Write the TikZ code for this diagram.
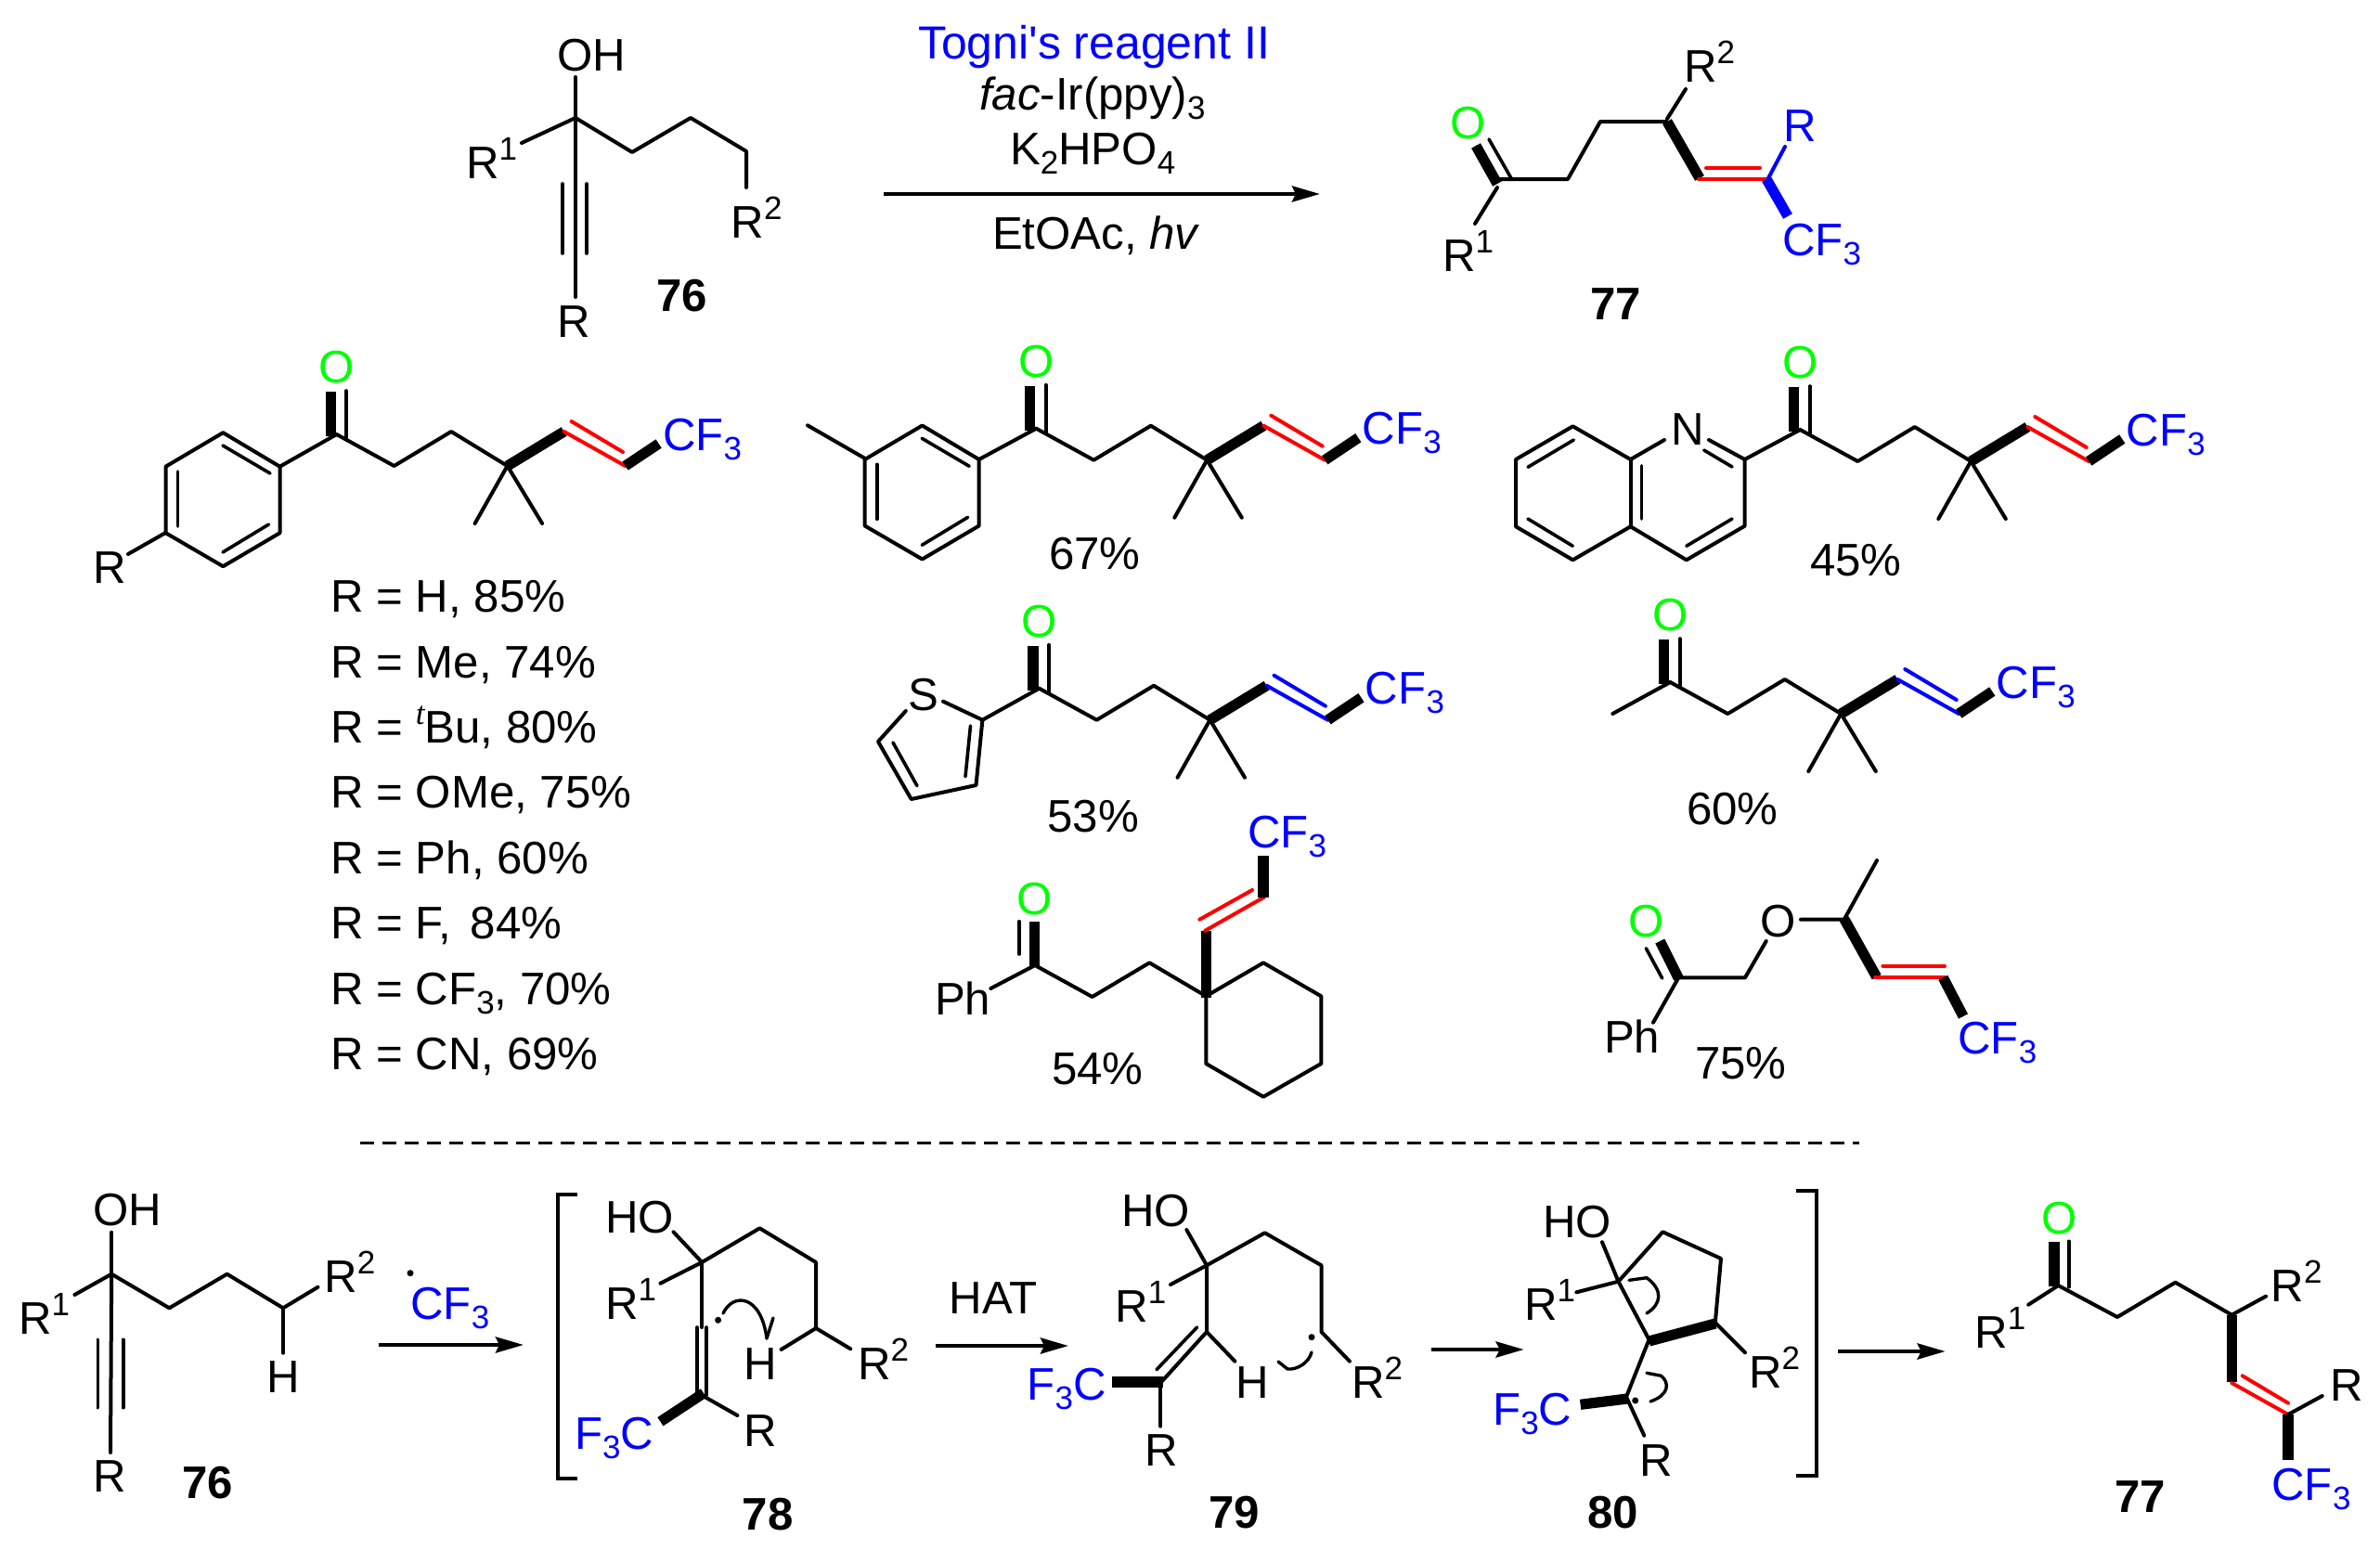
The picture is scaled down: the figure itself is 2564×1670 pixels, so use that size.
\documentclass[tikz,border=0pt]{standalone}
\usepackage{fontspec}
\setmainfont{Liberation Sans}
\newfontfamily\plainsans{Liberation Sans}
\newfontfamily\tmsfam{Liberation Serif}
\usetikzlibrary{arrows.meta}
\definecolor{cfblue}{RGB}{0,0,255}
\definecolor{ogreen}{RGB}{0,255,0}
\definecolor{dblred}{RGB}{255,0,0}
\tikzset{
  atom/.style={inner sep=0pt,outer sep=0pt,anchor=base west,xshift=-1.5pt,font=\fontsize{24.6}{29.5}\selectfont},
  bluetxt/.style={atom,text=cfblue},
  oxy/.style={inner sep=0pt,anchor=center,text=ogreen,font=\fontsize{24.6}{29.5}\selectfont},
  bd/.style={line width=2pt,line join=round,line cap=round},
  thin2/.style={line width=1.8pt,line cap=round},
  hv/.style={line width=5.6pt,line cap=butt},
  arr/.style={line width=2.2pt,-{Stealth[length=15pt,width=8.5pt,inset=2pt]}},
  brk/.style={line width=2pt,line join=miter},
  curl/.style={line width=1.7pt,line cap=round,line join=miter},
  dashrule/.style={line width=1.5pt,dash pattern=on 7.5pt off 4.5pt},
}
\newcommand\sups[1]{\raisebox{10pt}{\fontsize{17.5}{17.5}\selectfont #1}}
\newcommand\subs[1]{\raisebox{-5pt}{\fontsize{17.5}{17.5}\selectfont #1}}
\newcommand\T[4][atom]{\node[#1] (#2) at (#3) {#4};}
\newcommand\raddot[1]{\fill (#1) circle (3.5);}
% carbonyl + gem-dimethyl chain, origin at the carbonyl carbon
\newcommand\ketchain[4]{%
 \begin{scope}[shift={(#1,#2)}]
  \draw[bd] (0,0)--(62,34)--(123.5,-3)--(184,34);
  \draw[bd] (184,34)--(149,96);
  \draw[bd] (184,34)--(221.5,96);
  \draw[hv] (-6.5,2)--(-6.5,-46);
  \draw[thin2] (10.4,4)--(10.4,-47);
  \draw[hv] (184,34)--(245,-3);
  \draw[bd,color=#3] (245,-3)--(311,34);
  \draw[bd,color=#3] (253,-14)--(308.4,19);
  \draw[hv] (311,34)--(347,10);
  \node[oxy] (#4O) at (0,-72) {O};
  \node[bluetxt] (#4CF) at (354.4,17) {CF\subs{3}};
 \end{scope}}
% benzene ring, origin at the ipso carbon (upper right)
\newcommand\benz[2]{%
 \begin{scope}[shift={(#1,#2)}]
  \draw[bd] (0,0)--(-61.2,-36.5)--(-123,0)--(-123,71.5)--(-61.2,107.5)--(0,71.5)--cycle;
  \draw[thin2] (-61.5,-22.7)--(-10.5,7.3);
  \draw[thin2] (-61.5,92.3)--(-12,62.3);
  \draw[thin2] (-110,5.3)--(-110,64.3);
 \end{scope}}
\begin{document}
\begin{tikzpicture}[x=0.5pt,y=-0.5pt]
\useasboundingbox (0,0) rectangle (2564,1670);
\fill[white] (0,0) rectangle (2564,1670);

% ---------- top reaction: 76
\draw[bd] (620,83)--(620,127);
\draw[bd] (562,154)--(620,127)--(681,164)--(744,127)--(804,163)--(804,202);
\draw[bd] (620,127)--(620,320);
\draw[thin2] (606,198)--(606,273);
\draw[thin2] (632,198)--(632,273);
\T{topOH}{603,76}{OH}
\T{topRa}{505,192}{R\sups{1}}
\T{topRb}{790.5,256}{R\sups{2}}
\T{topR}{603,363}{R}
\T[atom,font=\fontsize{24.6}{29.5}\selectfont\bfseries]{topNa}{710,335}{76}
% conditions
\coordinate (topArrS) at (952,209);
\coordinate (topArrE) at (1422,209);
\draw[arr] (topArrS)--(topArrE);
\T[bluetxt,font=\fontsize{25}{29.5}\selectfont]{togni}{992,63}{\plainsans Togni's reagent II}
\T{fac}{1058,118}{\itshape fac\upshape-Ir(ppy)\subs{3}}
\T{base}{1091,177}{K\subs{2}HPO\subs{4}}
\T{solv}{1072,268}{EtOAc, \itshape hv}

% ---------- top product 77
\draw[hv] (1613,198)--(1590,157);
\draw[thin2] (1628,192)--(1604,150);
\draw[bd] (1613,202)--(1589,241);
\draw[bd] (1615,193)--(1689,193)--(1724,131)--(1795,131);
\draw[bd] (1796,128)--(1816,96);
\draw[hv] (1796,131)--(1831,192);
\draw[bd,color=dblred] (1830,193)--(1902,193);
\draw[bd,color=dblred] (1838,181)--(1896,181);
\draw[bd,color=cfblue] (1905,192)--(1923,158);
\draw[hv,color=cfblue] (1903,193)--(1926,233);
\node[oxy] (topO) at (1582,133) {O};
\T{pRb}{1817,88}{R\sups{2}}
\T[bluetxt]{pR}{1924,152}{R}
\T[bluetxt]{pCF}{1923,275}{CF\subs{3}}
\T{pRa}{1557,292}{R\sups{1}}
\T[atom,font=\fontsize{24.6}{29.5}\selectfont\bfseries]{pNa}{1716,344}{77}

% ---------- substrate a
\benz{301.5}{502.7}
\draw[bd] (178.4,574)--(138,597);
\draw[bd] (301.5,502.7)--(362.6,468);
\ketchain{362.6}{468}{dblred}{a}
\T{aR}{103,628}{R}
\T{la}{359.3,659.2}{R = H, 85\%}
\T{lb}{359.3,730}{R = Me, 74\%}
\T{lc}{359.3,800.5}{R = {\tmsfam\itshape\sups{t}}Bu, 80\%}
\T{ld}{359.3,870.8}{R = OMe, 75\%}
\T{le}{359.3,941}{R = Ph, 60\%}
\T{lf}{359.3,1011.8}{R = F,\hspace{3.5pt} 84\%}
\T{lg}{359.3,1082}{R = CF\subs{3}, 70\%}
\T{lh}{359.3,1152.3}{R = CN, 69\%}

% ---------- substrate b
\benz{1054.7}{495}
\draw[bd] (932,494)--(870,458.3);
\draw[bd] (1054.7,495)--(1116.3,461.7);
\ketchain{1116.3}{461.7}{dblred}{b}
\T{by}{1133,613}{67\%}

% ---------- substrate c (quinoline)
\draw[bd] (1793,474)--(1756.6,495)--(1694.4,459.3)--(1633,495)--(1633,567.3)--(1694.4,603.3)--(1756.6,567.3)--(1816.8,603.3)--(1879.6,566.7)--(1879.6,495)--(1841,474);
\draw[bd] (1756.6,495)--(1756.6,567.3);
\draw[bd] (1879.6,495)--(1939.3,463);
\draw[thin2] (1835.7,485)--(1866,503);
\draw[thin2] (1866,559)--(1816.8,588.3);
\draw[thin2] (1768.4,501.7)--(1768.4,559);
\draw[thin2] (1695.4,474)--(1646,503.3);
\draw[thin2] (1646,559)--(1694.4,588.3);
\T{cN}{1803,479}{N}
\ketchain{1939.3}{463}{dblred}{c}
\T{cy}{1953,620}{45\%}

% ---------- substrate d (thiophene)
\draw[bd] (1016,755.7)--(1058.4,775.7)--(1051.5,846)--(981.7,861)--(946,799)--(975.8,766);
\draw[bd] (1058.4,775.7)--(1119.5,741.7);
\draw[thin2] (962,800)--(988,846.7);
\draw[thin2] (1045.5,782)--(1040,836.7);
\T{dS}{981,765}{S}
\ketchain{1119.5}{741.7}{cfblue}{d}
\T{dy}{1131.6,896.7}{53\%}

% ---------- substrate e (methyl ketone)
\draw[bd] (1737.3,769)--(1799.3,735);
\ketchain{1799.3}{735}{cfblue}{e}
\T{ey}{1820,888}{60\%}

% ---------- substrate f (cyclohexyl)
\draw[bd] (1067.3,1065)--(1115,1040)--(1176.7,1074)--(1238.3,1037.3)--(1299.3,1073.3);
\draw[hv] (1114.3,1042)--(1114.3,993);
\draw[thin2] (1098,1028)--(1098,992.7);
\draw[bd] (1299.3,1073.3)--(1361,1037.3)--(1423.3,1073.3)--(1423.3,1146)--(1361,1181.7)--(1299.3,1146)--cycle;
\draw[hv] (1299.3,1075)--(1299.3,1003.3);
\draw[bd,color=dblred] (1298.3,1002.7)--(1361.7,966.7);
\draw[bd,color=dblred] (1292.3,990.7)--(1349,959);
\draw[hv] (1361,967)--(1361,921.7);
\node[oxy] (fO) at (1115,968.3) {O};
\T{fPh}{1010,1093.3}{Ph}
\T[bluetxt]{fCF}{1347,913}{CF\subs{3}}
\T{fy}{1136,1168.3}{54\%}

% ---------- substrate g (ether)
\draw[hv] (1808.3,1054)--(1788.3,1014);
\draw[thin2] (1790.7,1054)--(1773.3,1021.7);
\draw[bd] (1781,1101.7)--(1808.3,1053.3)--(1880,1053.3)--(1902.7,1014);
\draw[bd] (1940,990.7)--(1986.7,990.7)--(2022,927);
\draw[hv] (1986.7,990)--(2021.7,1052.7);
\draw[bd,color=dblred] (2020,1053.3)--(2095,1053.3);
\draw[bd,color=dblred] (2028.3,1040.7)--(2095,1040.7);
\draw[hv] (2093.3,1053.3)--(2115,1095);
\node[oxy] (gO) at (1773.7,992.3) {O};
\node[oxy,text=black] (gOe) at (1915.7,992.3) {O};
\T{gPh}{1731,1134}{Ph}
\T[bluetxt]{gCF}{2112.3,1135}{CF\subs{3}}
\T{gy}{1829,1162.7}{75\%}

% ---------- separator
\coordinate (sepS) at (388,1231);
\coordinate (sepE) at (2003,1231);
\draw[dashrule] (sepS)--(sepE);

% ---------- mechanism: 76
\draw[bd] (120.2,1327.7)--(120.2,1372.7);
\draw[bd] (80.4,1395)--(120.2,1372.7)--(182.4,1409.3)--(244.6,1372.7)--(305,1409.3)--(342.5,1386.7);
\draw[bd] (305,1409.3)--(305,1457.7);
\draw[bd] (120.2,1372.7)--(119,1565);
\draw[thin2] (105.3,1443.3)--(105.3,1516.7);
\draw[thin2] (132.7,1443.3)--(132.7,1516.7);
\T{mOH}{103.6,1320.7}{OH}
\T{mRa}{23,1437.3}{R\sups{1}}
\T{mRb}{352.4,1392.7}{R\sups{2}}
\T{mH}{290,1500}{H}
\T{mR}{103.6,1607.3}{R}
\T[atom,font=\fontsize{24.6}{29.5}\selectfont\bfseries]{mNa}{199.5,1614}{76}
\raddot{442,1371.7}
\T[bluetxt]{mCF}{445.3,1421.7}{CF\subs{3}}
\coordinate (mArrAS) at (408,1449);
\coordinate (mArrAE) at (564,1449);
\draw[arr] (mArrAS)--(mArrAE);

% left bracket
\draw[brk] (622,1287.3)--(601,1287.3)--(601,1593.3)--(622,1593.3);

% ---------- 78
\draw[bd] (725.5,1327.3)--(756.2,1360)--(711.4,1382.7);
\draw[bd] (756.2,1360)--(818.4,1323.3)--(879,1360)--(879,1431)--(841.6,1454);
\draw[bd] (879,1431)--(916.3,1453.3);
\draw[bd] (756.2,1360)--(756.2,1430);
\draw[thin2] (751,1430)--(751,1503);
\draw[thin2] (761,1430)--(761,1503);
\draw[hv] (758,1501)--(711.4,1531.7);
\draw[bd] (756.2,1503.3)--(794.4,1525);
\raddot{773.6,1422.3}
\draw[curl] (779,1415) .. controls (790,1392) and (820,1395) .. (826,1442);
\draw[curl] (826,1442)--(833,1420);
\T{gaHO}{655,1328.3}{HO}
\T{gaRa}{655,1421.7}{R\sups{1}}
\T{gaH}{804.3,1486}{H}
\T{gaRb}{927,1486}{R\sups{2}}
\T{gaR}{804.3,1558.3}{R}
\T[bluetxt]{gaCF}{622,1561.7}{F\subs{3}C}
\T[atom,font=\fontsize{24.6}{29.5}\selectfont\bfseries]{gaN}{802.7,1648.3}{78}
\T{hat}{1025.7,1415}{HAT}
\coordinate (mArrBS) at (1007.5,1450);
\coordinate (mArrBE) at (1151,1450);
\draw[arr] (mArrBS)--(mArrBE);

% ---------- 79
\draw[bd] (1278.3,1325)--(1300,1363.3)--(1261,1384);
\draw[bd] (1300,1363.3)--(1362.6,1328.3)--(1423.5,1363.3)--(1423.5,1435)--(1454,1466.7);
\draw[bd] (1300,1363.3)--(1300,1435)--(1330.4,1466.7);
\draw[bd] (1300,1435)--(1252,1488);
\draw[thin2] (1289.6,1430)--(1246,1475.7);
\draw[hv] (1198,1489)--(1253,1489);
\draw[bd] (1250.4,1489)--(1250.4,1536.7);
\raddot{1413,1440.7}
\draw[curl] (1413,1457) .. controls (1410,1468) and (1398,1476) .. (1387,1475);
\draw[curl] (1387,1475)--(1377,1467);
\T{deHO}{1211,1321.7}{HO}
\T{deRa}{1204.3,1424}{R\sups{1}}
\T[bluetxt]{deCF}{1109.5,1508.3}{F\subs{3}C}
\T{deH}{1334.8,1506}{H}
\T{deRb}{1459,1506}{R\sups{2}}
\T{deR}{1236.5,1579.3}{R}
\T[atom,font=\fontsize{24.6}{29.5}\selectfont\bfseries]{deN}{1305.6,1646}{79}
\coordinate (mArrCS) at (1541.7,1454);
\coordinate (mArrCE) at (1641.7,1454);
\draw[arr] (mArrCS)--(mArrCE);

% ---------- 80
\draw[bd] (1726,1338.3)--(1743.5,1380.7)--(1776.5,1443.3)--(1752,1505)--(1771.3,1546.7);
\draw[bd] (1743.5,1380.7)--(1698.3,1392.3);
\draw[bd] (1743.5,1380.7)--(1791.3,1327.3)--(1854,1356)--(1847.8,1425)--(1880,1457.3);
\draw[hv] (1776.5,1445)--(1848,1426);
\draw[hv] (1753,1507)--(1702.6,1513.3);
\raddot{1761.7,1509}
\draw[curl] (1774,1415) .. controls (1790,1405) and (1792,1390) .. (1774,1376.7);
\draw[curl] (1774,1376.7)--(1755,1379.3);
\draw[curl] (1778,1510) .. controls (1798,1503) and (1799,1490) .. (1789.6,1482.3);
\draw[curl] (1789.6,1482.3)--(1774,1479.3);
\T{ziHO}{1665,1333.3}{HO}
\T{ziRa}{1645,1422.3}{R\sups{1}}
\T{ziRb}{1887,1495}{R\sups{2}}
\T[bluetxt]{ziCF}{1611.3,1535}{F\subs{3}C}
\T{ziR}{1769.6,1590}{R}
\T[atom,font=\fontsize{24.6}{29.5}\selectfont\bfseries]{ziN}{1713,1646}{80}

% right bracket
\draw[brk] (1934.8,1283.3)--(1956.5,1283.3)--(1956.5,1590)--(1934.8,1590);
\coordinate (mArrDS) at (1980,1456);
\coordinate (mArrDE) at (2095.7,1456);
\draw[arr] (mArrDS)--(mArrDE);

% ---------- 77 final
\draw[hv] (2213,1386)--(2213,1338.3);
\draw[thin2] (2228.7,1386.7)--(2228.7,1337.3);
\draw[bd] (2185.2,1405.7)--(2217.4,1385)--(2281,1419)--(2343.5,1381.7)--(2404.3,1416.7)--(2441,1396.7);
\draw[hv] (2404.3,1416.7)--(2404.3,1489);
\draw[bd,color=dblred] (2404.3,1490)--(2465,1524);
\draw[bd,color=dblred] (2415.7,1482.3)--(2465,1511.7);
\draw[bd] (2465,1524)--(2501.7,1504);
\draw[hv] (2465,1524)--(2465,1573.3);
\node[oxy] (enO) at (2219,1312.7) {O};
\T{enRa}{2130.4,1452.3}{R\sups{1}}
\T{enRb}{2449.6,1402.7}{R\sups{2}}
\T{enR}{2513,1509.3}{R}
\T[bluetxt]{enCF}{2450.4,1616.7}{CF\subs{3}}
\T[atom,font=\fontsize{24.6}{29.5}\selectfont\bfseries]{enN}{2281,1629}{77}
\end{tikzpicture}
\end{document}
